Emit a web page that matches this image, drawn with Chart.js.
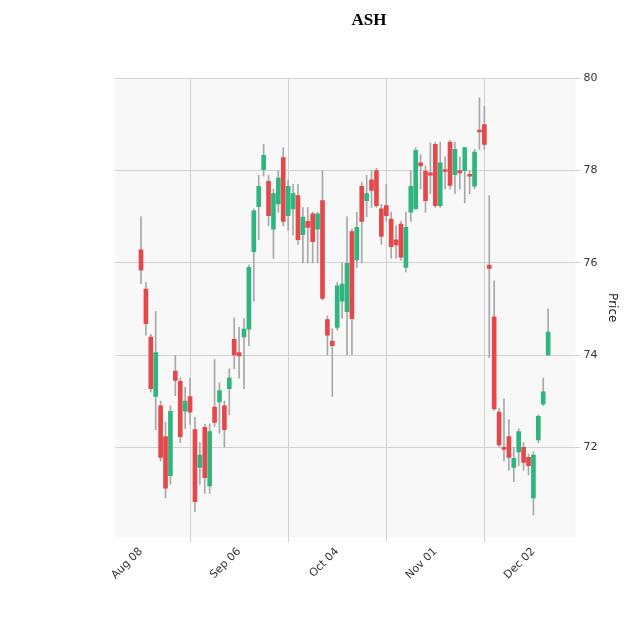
<!DOCTYPE html>
<html><head><meta charset="utf-8">
<script src="https://cdn.jsdelivr.net/npm/chart.js@4/dist/chart.umd.min.js"></script>
<style>html,body{margin:0;padding:0;background:#fff}#w{width:640px;height:640px}</style>
</head><body><div id="w"><canvas id="c"></canvas></div>
<script>
const tickPositions=[0,20,40,60,80];
const tickLabels=["Aug 08","Sep 06","Oct 04","Nov 01","Dec 02"];
const opens=[76.28,75.43,74.39,73.10,72.9,72.23,71.38,73.65,73.43,72.78,73.1,72.38,71.56,72.43,71.16,72.87,72.98,72.9,73.27,74.34,74.05,74.39,74.56,76.24,77.22,78.02,77.77,76.73,77.28,78.28,77.02,77.17,77.46,76.61,76.9,77.06,76.73,77.35,74.77,74.3,74.6,75.17,74.94,76.68,76.06,77.66,77.35,77.8,78.0,77.17,77.24,76.95,76.5,76.84,75.9,77.1,77.17,78.17,77.99,77.95,78.57,77.24,78.02,78.62,77.91,78.0,78.0,77.92,77.66,78.88,79.0,75.95,74.83,72.76,72.0,72.23,71.56,71.9,72.0,71.78,70.9,72.16,72.94,74.0];
const highs=[77.0,75.57,74.45,74.94,73.0,72.54,72.9,73.99,73.5,73.3,73.5,72.65,72.1,72.5,72.5,73.9,73.4,73.0,73.7,74.8,74.6,74.79,75.95,77.17,77.9,78.57,77.9,77.6,78.0,78.5,77.8,77.7,77.7,77.2,77.2,77.1,77.1,78.0,74.85,74.57,75.57,76.0,77.0,76.73,77.1,77.75,77.9,78.0,78.05,77.27,77.7,77.1,76.8,76.9,77.1,78.0,78.5,78.35,78.1,78.6,78.62,78.62,78.3,78.65,78.62,78.3,78.5,78.0,78.46,79.58,79.4,77.46,75.61,72.85,73.05,72.6,72.0,72.4,72.1,71.85,71.9,72.7,73.5,75.0];
const lows=[75.55,74.43,73.2,72.38,71.7,70.9,71.2,73.12,72.1,72.4,72.5,70.6,71.2,71.0,71.0,72.45,72.3,72.0,72.7,73.7,73.5,73.27,74.2,75.17,76.5,77.88,76.8,76.1,77.1,76.8,76.7,76.6,76.4,76.0,76.0,76.0,76.0,75.2,74.0,73.1,74.54,74.8,74.0,74.0,75.9,76.0,77.0,77.2,77.2,76.4,76.9,76.1,76.1,76.05,75.8,76.9,77.17,77.6,77.1,77.5,77.2,77.2,77.6,77.6,77.5,77.6,77.3,77.5,77.6,78.46,78.46,73.94,72.8,72.0,71.7,71.5,71.25,71.6,71.5,71.4,70.53,72.1,72.9,73.99];
const closes=[75.84,74.68,73.27,74.05,71.78,71.11,72.78,73.45,72.23,73.0,72.76,70.82,71.83,71.34,72.34,72.54,73.23,72.38,73.5,74.0,73.98,74.56,75.9,77.13,77.66,78.33,77.02,77.5,77.84,76.9,77.66,77.5,76.5,76.99,76.77,76.46,77.06,75.23,74.43,74.2,75.5,75.54,75.99,74.79,76.77,76.9,77.5,77.57,77.24,76.57,77.02,76.35,76.39,76.12,76.77,77.66,78.44,78.1,77.35,77.9,77.24,78.17,77.98,77.68,78.46,77.95,78.5,77.88,78.4,78.84,78.57,75.88,72.83,72.05,71.95,71.78,71.76,72.34,71.67,71.6,71.83,72.67,73.2,74.5];
const UP='#2fb57e', DOWN='#e5484a', WICK='#a8a8a8';
const idx=opens.map((_,i)=>i);
const bodyColors=idx.map(i=>closes[i]>=opens[i]?UP:DOWN);
const bgPlugin={id:'bg',beforeDraw(ch){const a=ch.chartArea,c=ch.ctx;c.save();c.fillStyle='#f8f8f8';c.fillRect(a.left,a.top,a.right-a.left,a.bottom-a.top);c.restore();}};
new Chart(document.getElementById('c'),{
 type:'bar',
 data:{datasets:[
  {label:'wick',data:idx.map(i=>({x:i,y:[lows[i],highs[i]]})),backgroundColor:WICK,barThickness:1,grouped:false,order:2},
  {label:'body',data:idx.map(i=>({x:i,y:[opens[i],closes[i]]})),backgroundColor:bodyColors,barThickness:4,minBarLength:1,grouped:false,order:1}
 ]},
 options:{responsive:true,maintainAspectRatio:false,animation:false,
  layout:{padding:{left:115,right:17,top:10,bottom:55}},
  plugins:{legend:{display:false},tooltip:{enabled:false},
   title:{display:true,text:'ASH',font:{family:'Liberation Sans Narrow',size:17,weight:'bold'},color:'#000',padding:{top:0,bottom:48}}},
  scales:{
   x:{type:'linear',min:-5.3,max:88.6,offset:false,
    afterBuildTicks(ax){ax.ticks=tickPositions.map(v=>({value:v}));},
    ticks:{callback:(v)=>{const k=tickPositions.indexOf(v);return k>=0?tickLabels[k]:'';},maxRotation:45,minRotation:45,font:{family:'DejaVu Sans',size:11},color:'#333'},
    grid:{color:'#d2d2d2',drawTicks:true,tickLength:5},border:{display:false}},
   y:{position:'right',min:70.05,max:80,
    afterBuildTicks(ax){ax.ticks=[72,74,76,78,80].map(v=>({value:v}));},
    ticks:{font:{family:'DejaVu Sans',size:11},color:'#333'},
    grid:{color:'#d2d2d2',tickLength:5},border:{display:false},
    title:{display:true,text:'Price',font:{family:'DejaVu Sans',size:12},color:'#222'}}
  }},
 plugins:[bgPlugin]
});
</script></body></html>
